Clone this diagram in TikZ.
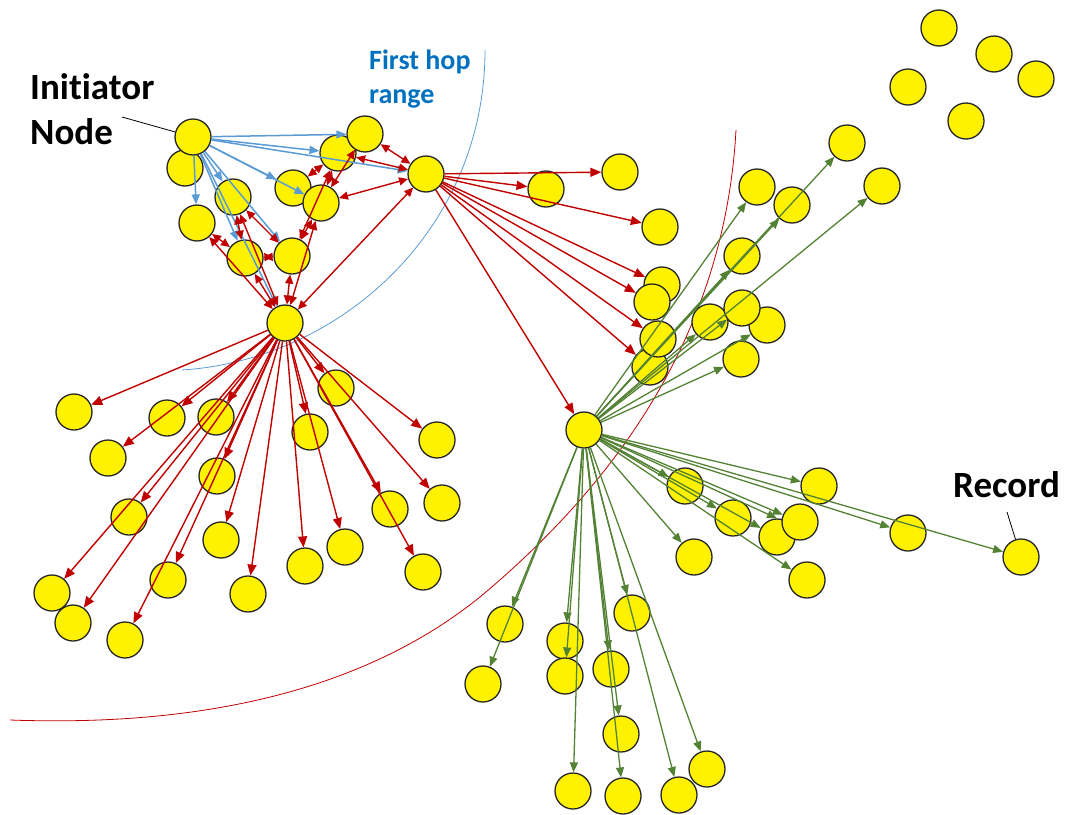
\documentclass[tikz,border=0pt]{standalone}
\usepackage{fontspec}
\setmainfont[Ligatures=NoCommon]{Carlito}
\usetikzlibrary{arrows.meta}
\definecolor{hopblue}{RGB}{91,155,213}
\definecolor{tagblue}{RGB}{0,112,192}
\definecolor{hopred}{RGB}{192,0,0}
\definecolor{hopgreen}{RGB}{84,130,53}
\tikzset{
  peer/.style={circle, draw=black!85, line width=1.3pt, fill=yellow,
    minimum size=36pt, inner sep=0pt},
  blueway/.style={hopblue, line width=1.5pt, -{Triangle[length=10pt,width=8pt]}},
  redway/.style={hopred, line width=1.4pt, -{Triangle[length=11pt,width=9pt]}},
  redboth/.style={hopred, line width=1.4pt,
    {Triangle[length=9pt,width=8pt]}-{Triangle[length=9pt,width=8pt]}},
  greenway/.style={hopgreen, line width=1.3pt, -{Triangle[length=10pt,width=8pt]}},
  tag/.style={font=\bfseries\fontsize{37}{45}\selectfont, align=left, inner sep=0pt}
}
\begin{document}
\begin{tikzpicture}[x=1pt,y=-1pt]
  \useasboundingbox (0,0) rectangle (1068,814);
  \draw[hopblue, line width=0.8pt] (485,50) .. controls (485,230) and (340,360) .. (182,370);
  \draw[hopred, line width=0.8pt] (736,130) .. controls (725,330) and (620,480) .. (480,597)
    .. controls (340,710) and (150,725) .. (10,720);
  \foreach \n/\x/\y in {c1/185/168, init/193/137, c2/197/223, c3/233/197, c4/245/258,
    c5/292/256, c6/293/188, c7/321/203, c8/338/153, c9/365/134, hubA/426/174, hubB/285/323,
    r1/620/172, r2/546/189, r3/660/227, r4/662/285, r5/652/302, r7/650/367, r6/658/339,
    hubC/584/430, g1/757/187, g2/792/205, g3/847/143, g4/882/186, g5/742/256,
    g6/710/322, g8/767/325, g7/742/308, g9/741/359,
    k1/939/28, k2/994/54, k3/1036/79, k4/908/87, k5/966/121,
    s1/685/486, s2/819/486, s3/733/518, s4/777/537, s5/800/522, s6/908/533,
    rec/1021/557, s7/694/557, s8/807/580,
    t1/505/624, t2/483/684, t3/565/641, t4/565/676, t5/632/613, t6/611/669,
    t7/621/734, t8/573/791, t9/623/796, t10/679/795, t11/707/769,
    b1/74/412, b2/167/418, b3/216/417, b4/336/388, b5/437/440, b6/108/458,
    b7/310/432, b8/217/476, b9/129/517, b10/390/509, b11/442/503, b12/221/540,
    b13/345/547, b14/305/566, b15/168/580, b16/248/594, b17/423/572,
    b18/52/593, b19/73/623, b20/125/640}
    \node[peer] (\n) at (\x,\y) {};
  \node[tag, anchor=north west] (inittag) at (30,73) {Initiator\\Node};
  \coordinate (initfoot) at (122,117);
  \draw[line width=0.8pt] (initfoot) -- (init);
  \node[tag, tagblue, font=\bfseries\fontsize{28}{34}\selectfont, anchor=north west]
    (hoptag) at (369,50) {First hop\\range};
  \node[tag, anchor=base west] (rectag) at (953,497) {Record};
  \coordinate (recfoot) at (1007,512);
  \draw[line width=0.8pt] (recfoot) -- (rec);
  \foreach \t in {c9, c8, hubA, c6, c7, c2, c3, c4, c5, hubB}
    \draw[blueway] (init) -- (\t);
  \foreach \s/\t in {c9/hubA, c8/hubA, c7/hubA, hubB/hubA, c9/c7, c8/c6, c8/c5, c8/c7,
    c7/c5, c7/hubB, c3/c5, c3/c4, c2/c4, c4/c5, c2/hubB, c3/hubB, c4/hubB, c5/hubB}
    \draw[redboth] (\s) -- (\t);
  \foreach \t in {r1, r2, r3, r4, r5, r6, r7, hubC}
    \draw[redway] (hubA) -- (\t);
  \foreach \t [count=\i] in {b1, b2, b3, b4, b5, b6, b7, b8, b9, b10,
    b11, b12, b13, b14, b15, b16, b17, b18, b19, b20}
    \draw[redway] (hubB) -- (\t);
  \foreach \t in {g1, g2, g3, g4, g5, g6, g7, g8, g9, s1, s2, s3, s4, s4.north, s5, s6, rec,
    s7, s8, t1, t2, t3, t4, t5, t6, t7, t8, t9, t10, t11}
    \draw[greenway] (hubC) -- (\t);
\end{tikzpicture}
\end{document}
